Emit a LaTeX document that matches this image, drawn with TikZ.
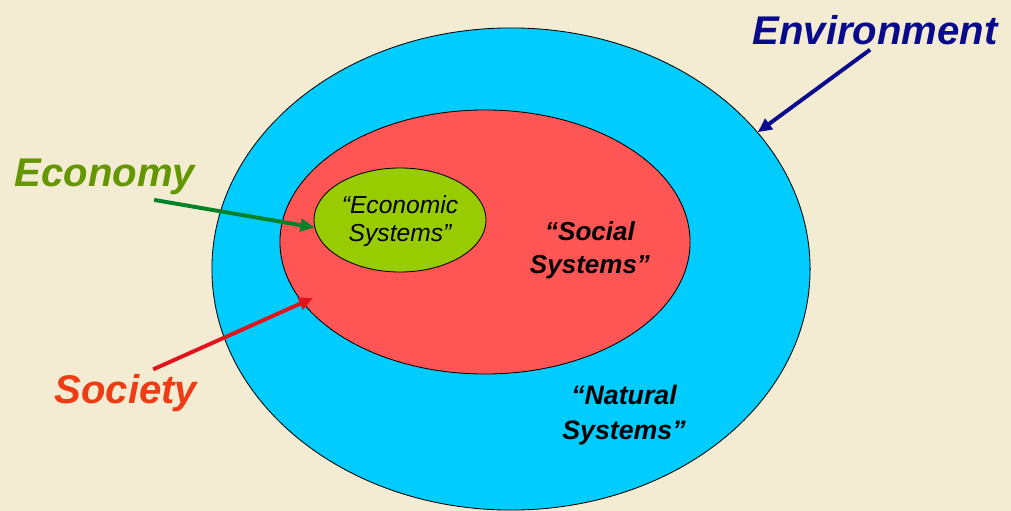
\documentclass[tikz,border=0pt]{standalone}
\usepackage{fontspec}
\setmainfont{Liberation Sans}
\usetikzlibrary{shapes.geometric, arrows.meta}

\definecolor{paper}{RGB}{243,236,210}
\definecolor{skyblue}{RGB}{0,204,255}
\definecolor{salmon}{RGB}{255,85,85}
\definecolor{lime}{RGB}{153,204,0}
\definecolor{navyink}{RGB}{10,10,140}
\definecolor{oliveink}{RGB}{100,150,0}
\definecolor{greenline}{RGB}{0,130,40}
\definecolor{redink}{RGB}{240,60,20}
\definecolor{redline}{RGB}{225,20,30}

\begin{document}
\begin{tikzpicture}[x=0.025cm, y=-0.025cm,
    ring/.style = {draw, ellipse, inner sep=0pt, line width=0.6pt},
    tag/.style = {font=\fontsize{28.5}{30}\selectfont\bfseries\itshape},
    inside/.style = {align=center, font=\fontsize{18.5}{23.5}\selectfont\bfseries\itshape},
    pointer/.style = {-{Triangle[length=10pt,width=9pt]}, line width=2.8pt}]
    \useasboundingbox (0,0) rectangle (1011,511);
    \fill[paper] (0,0) rectangle (1011,511);

    \node[ring, fill=skyblue, minimum width=14.95cm, minimum height=12.05cm] (env) at (511,269) {};
    \node[ring, fill=salmon, minimum width=10.25cm, minimum height=6.6cm] (soc) at (485,242) {};
    \node[ring, fill=lime, minimum width=4.3cm, minimum height=2.6cm] (eco) at (400,220) {};

    \node[align=center, font=\fontsize{17.5}{20}\selectfont\itshape] (ecotext) at (400,221) {``Economic\\Systems''};
    \node[inside] (soctext) at (590,250) {``Social\\Systems''};
    \node[inside, font=\fontsize{19}{25}\selectfont\bfseries\itshape] (nattext) at (624,415) {``Natural\\Systems''};

    \node[tag, text=navyink] (envlbl) at (875,30) {Environment};
    \node[tag, text=oliveink] (ecolbl) at (105,177) {Economy};
    \node[tag, text=redink] (soclbl) at (126,393) {Society};

    \coordinate (sochead) at (313,298);
    \draw[pointer, navyink] (envlbl.-104) -- (env.29);
    \draw[pointer, greenline] (ecolbl.-25) -- (eco.185);
    \draw[pointer, redline] (soclbl.41) -- (sochead);
\end{tikzpicture}
\end{document}
